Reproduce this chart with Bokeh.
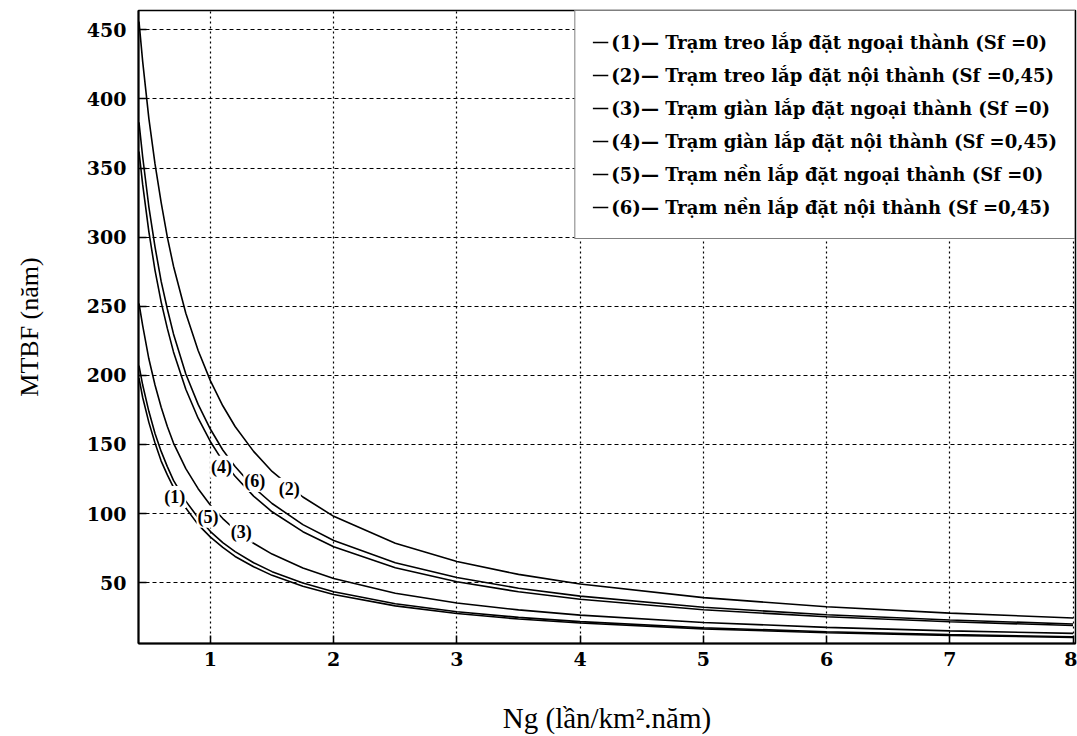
from bokeh.plotting import figure
from bokeh.models import Range1d, Legend, LegendItem, Label, FixedTicker
from bokeh.embed import file_html
from bokeh.resources import INLINE

# ---- data ----
ng = [0.42, 0.45, 0.5, 0.55, 0.6, 0.65, 0.7, 0.8, 0.9, 1.0, 1.1, 1.2, 1.35, 1.5,
      1.75, 2.0, 2.5, 3.0, 3.5, 4.0, 5.0, 6.0, 7.0, 8.0]

mtbf_1 = [198, 184, 166, 151, 138, 128, 119, 104, 92, 83, 75.5, 69, 61.5, 55.3,
          47.4, 41.5, 33.2, 27.7, 23.7, 20.8, 16.6, 13.8, 11.9, 10.4]
mtbf_2 = [456, 427, 386, 353, 325, 300, 279, 245, 218, 196, 178, 163, 145, 130.5,
          112, 98, 78.5, 65.3, 56, 49, 39.2, 32.6, 28, 24.5]
mtbf_3 = [252, 236, 212, 193, 177, 163, 151, 132.5, 118, 106, 96.4, 88.3, 78.5, 70.7,
          60.6, 53, 42.4, 35.3, 30.3, 26.5, 21.2, 17.7, 15.1, 13.3]
mtbf_4 = [362, 338, 304, 276, 253, 234, 217, 190, 169, 152, 138, 127, 112.6, 101.3,
          86.9, 76, 60.8, 50.7, 43.4, 38, 30.4, 25.3, 21.7, 19]
mtbf_5 = [207, 193, 174, 158, 145, 134, 124, 109, 97, 87, 79, 72.5, 64.4, 58,
          49.7, 43.5, 34.8, 29, 24.9, 21.8, 17.4, 14.5, 12.4, 10.9]
mtbf_6 = [383, 358, 322, 293, 268, 248, 230, 201, 179, 161, 146, 134, 119, 107.3,
          92, 80.5, 64.4, 53.7, 46, 40.3, 32.2, 26.8, 23, 20.1]

series = [mtbf_1, mtbf_2, mtbf_3, mtbf_4, mtbf_5, mtbf_6]
series_labels = [
    "(1)\u2014 Trạm treo lắp đặt ngoại thành (Sf =0)",
    "(2)\u2014 Trạm treo lắp đặt nội thành (Sf =0,45)",
    "(3)\u2014 Trạm giàn lắp đặt ngoại thành (Sf =0)",
    "(4)\u2014 Trạm giàn lắp đặt nội thành (Sf =0,45)",
    "(5)\u2014 Trạm nền lắp đặt ngoại thành (Sf =0)",
    "(6)\u2014 Trạm nền lắp đặt nội thành (Sf =0,45)",
]

x_ticks = [1, 2, 3, 4, 5, 6, 7, 8]
y_ticks = [50, 100, 150, 200, 250, 300, 350, 400, 450]

curve_tags = ["(1)", "(5)", "(3)", "(4)", "(6)", "(2)"]
tag_x = [0.71, 0.98, 1.25, 1.09, 1.36, 1.64]
tag_y = [112, 97.7, 86.8, 133.8, 123.6, 117.9]

# ---- figure ----
p = figure(width=1077, height=736, output_backend="svg", toolbar_location=None,
           x_range=Range1d(0.416, 8.02), y_range=Range1d(6, 464),
           min_border_left=138, min_border_right=2, min_border_top=10,
           min_border_bottom=91, background_fill_color="white",
           border_fill_color="white")

p.outline_line_color = "black"
p.outline_line_width = 1.5

renderers = []
for ys in series:
    r = p.line(ng, ys, line_color="black", line_width=1.6)
    renderers.append(r)

# grid
p.xgrid.ticker = FixedTicker(ticks=x_ticks)
p.ygrid.ticker = FixedTicker(ticks=y_ticks)
p.xgrid.grid_line_color = "black"
p.ygrid.grid_line_color = "black"
p.xgrid.grid_line_dash = "2 3"
p.ygrid.grid_line_dash = "4 3"
p.xgrid.grid_line_width = 1.2
p.ygrid.grid_line_width = 1.2

for ax in (p.xaxis[0], p.yaxis[0]):
    ax.major_tick_in = 8
    ax.major_tick_out = 0
    ax.minor_tick_line_color = None
    ax.major_tick_line_color = "black"
    ax.major_tick_line_width = 1.5
    ax.axis_line_color = "black"
    ax.axis_line_width = 2
    ax.major_label_text_font = "DejaVu Serif"
    ax.major_label_text_font_style = "bold"
    ax.major_label_text_font_size = "19px"
    ax.major_label_text_color = "black"
    ax.axis_label_text_font = "Liberation Serif"
    ax.axis_label_text_font_style = "normal"
    ax.axis_label_text_color = "black"

p.xaxis.ticker = FixedTicker(ticks=x_ticks)
p.yaxis.ticker = FixedTicker(ticks=y_ticks)
p.xaxis.major_label_standoff = 8
p.yaxis.major_label_standoff = 12
p.xaxis.axis_label = "Ng (lần/km².năm)"
p.yaxis.axis_label = "MTBF (năm)"
p.xaxis.axis_label_text_font_size = "29px"
p.yaxis.axis_label_text_font_size = "26px"
p.xaxis.axis_label_standoff = 33
p.yaxis.axis_label_standoff = 40

# curve tags
for t, tx, ty in zip(curve_tags, tag_x, tag_y):
    p.add_layout(Label(x=tx, y=ty, text=t, text_align="center", text_baseline="middle",
                       text_font="Liberation Serif", text_font_style="bold",
                       text_font_size="18px", text_color="black",
                       background_fill_color="white", padding=1))

legend = Legend(items=[LegendItem(label=l, renderers=[r]) for l, r in zip(series_labels, renderers)],
                location="top_right", margin=0, padding=17, spacing=5,
                glyph_width=16, glyph_height=28, label_height=28, label_standoff=3,
                label_text_font="DejaVu Serif", label_text_font_style="bold",
                label_text_font_size="18px", label_text_color="black",
                border_line_color="black", border_line_width=1.5,
                background_fill_color="white", background_fill_alpha=1.0)
p.add_layout(legend)

open("out.html", "w").write(file_html(p, INLINE))
